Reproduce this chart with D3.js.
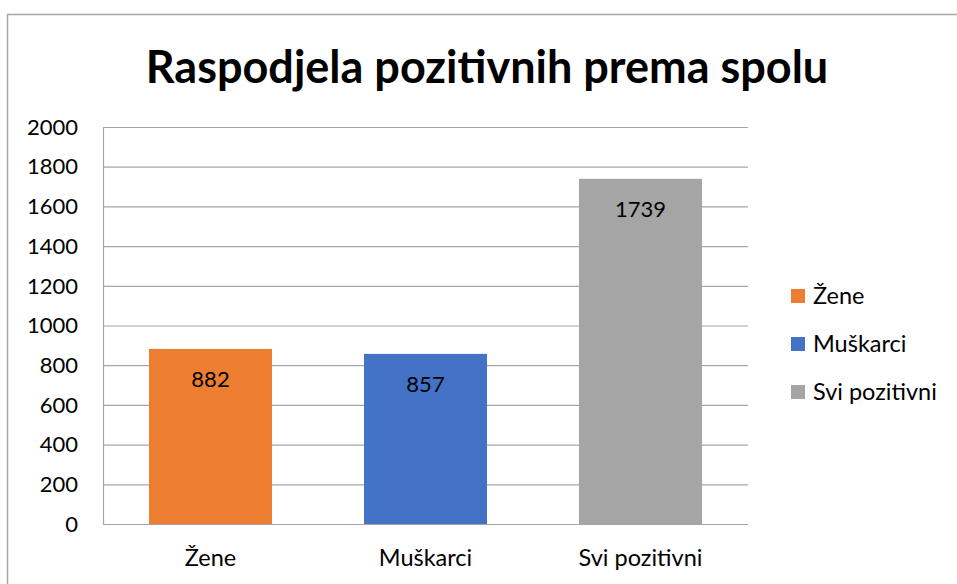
<!DOCTYPE html>
<html>
<head>
<meta charset="utf-8">
<script src="https://cdn.jsdelivr.net/npm/d3@7"></script>
<style>
  body { margin: 0; background: #fff; }
  svg text { font-family: Lato, "Open Sans", sans-serif; fill: #000; }
</style>
</head>
<body>
<svg width="957" height="584"></svg>
<script>
// data
const categories = ["Žene", "Muškarci", "Svi pozitivni"];
const values = [882, 857, 1739];
const colors = ["#ED7D31", "#4472C4", "#A5A5A5"];
const yTicks = [0, 200, 400, 600, 800, 1000, 1200, 1400, 1600, 1800, 2000];

const svg = d3.select("svg");

// chart frame
svg.append("rect")
    .attr("x", 7.5).attr("y", 14.5)
    .attr("width", 1000).attr("height", 700)
    .attr("fill", "none")
    .attr("stroke", "#A6A6A6")
    .attr("stroke-width", 1.5);

const plot = {left: 103, right: 748, top: 127, bottom: 524};

const x = d3.scaleBand()
    .domain(categories)
    .range([plot.left, plot.right])
    .paddingInner(0.428)
    .paddingOuter(0.214);

const y = d3.scaleLinear()
    .domain([0, 2000])
    .range([plot.bottom, plot.top]);

// title
svg.append("text")
    .attr("x", 487)
    .attr("y", 83)
    .attr("text-anchor", "middle")
    .style("font-size", "45px")
    .style("font-weight", "bold")
    .text("Raspodjela pozitivnih prema spolu");

// gridlines
svg.append("g")
    .selectAll("line")
    .data(yTicks)
    .enter().append("line")
    .attr("x1", plot.left).attr("x2", plot.right)
    .attr("y1", d => y(d) + 0.5).attr("y2", d => y(d) + 0.5)
    .attr("stroke", "#A6A6A6")
    .attr("stroke-width", 1.2);

// left axis line
svg.append("line")
    .attr("x1", plot.left + 0.5).attr("x2", plot.left + 0.5)
    .attr("y1", plot.top).attr("y2", plot.bottom)
    .attr("stroke", "#A6A6A6")
    .attr("stroke-width", 1.2);

// y tick labels
svg.append("g")
    .selectAll("text")
    .data(yTicks)
    .enter().append("text")
    .attr("x", 78)
    .attr("y", d => y(d))
    .attr("dy", "0.35em")
    .attr("text-anchor", "end")
    .style("font-size", "22px")
    .text(d => d);

// bars
svg.append("g")
    .selectAll("rect")
    .data(values)
    .enter().append("rect")
    .attr("x", (d, i) => x(categories[i]))
    .attr("y", d => y(d))
    .attr("width", x.bandwidth())
    .attr("height", d => y(0) - y(d))
    .attr("fill", (d, i) => colors[i]);

// value labels
svg.append("g")
    .selectAll("text")
    .data(values)
    .enter().append("text")
    .attr("x", (d, i) => x(categories[i]) + x.bandwidth() / 2)
    .attr("y", d => y(d) + 30)
    .attr("dy", "0.35em")
    .attr("text-anchor", "middle")
    .style("font-size", "22px")
    .text(d => d);

// category labels
svg.append("g")
    .selectAll("text")
    .data(categories)
    .enter().append("text")
    .attr("x", d => x(d) + x.bandwidth() / 2)
    .attr("y", 558)
    .attr("dy", "0.35em")
    .attr("text-anchor", "middle")
    .style("font-size", "23.5px")
    .text(d => d);

// legend
const legend = svg.append("g")
    .selectAll("g")
    .data(categories)
    .enter().append("g")
    .attr("transform", (d, i) => `translate(791,${296 + i * 48})`);

legend.append("rect")
    .attr("x", 0).attr("y", -7)
    .attr("width", 14).attr("height", 14)
    .attr("fill", (d, i) => colors[i]);

legend.append("text")
    .attr("x", 22)
    .attr("y", 0)
    .attr("dy", "0.35em")
    .style("font-size", "23.5px")
    .text(d => d);
</script>
</body>
</html>
